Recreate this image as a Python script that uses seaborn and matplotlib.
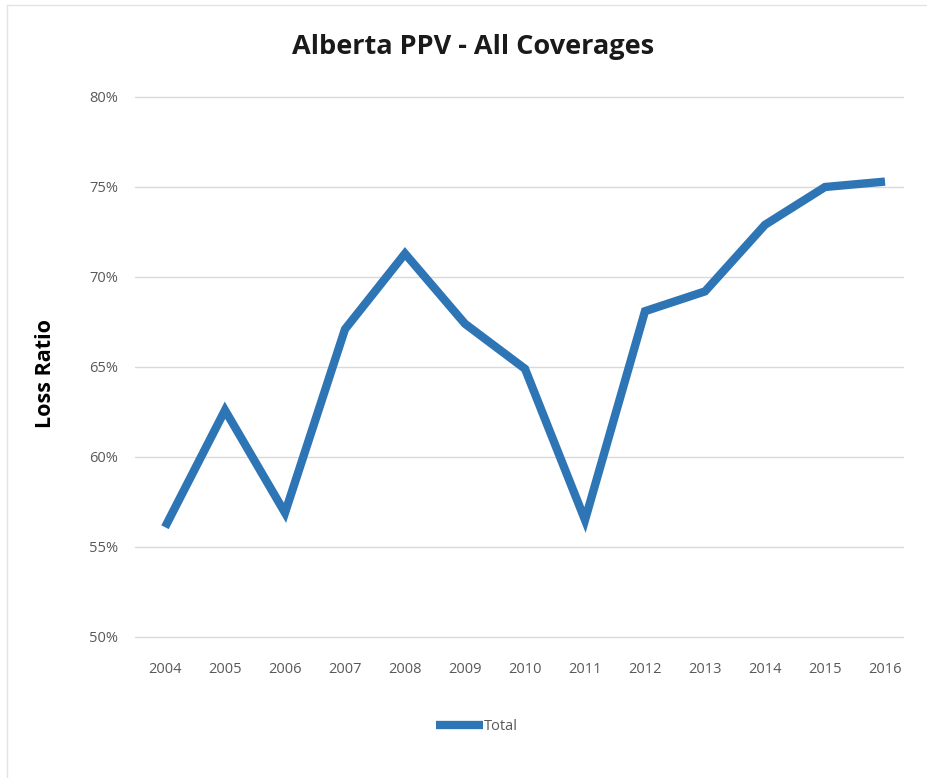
import matplotlib
matplotlib.use("Agg")
import matplotlib.pyplot as plt
import seaborn as sns
import pandas as pd
from matplotlib.ticker import PercentFormatter
from matplotlib.lines import Line2D

years = ["2004", "2005", "2006", "2007", "2008", "2009", "2010",
         "2011", "2012", "2013", "2014", "2015", "2016"]
loss_ratio = [56.1, 62.6, 56.9, 67.1, 71.3, 67.4, 64.9,
              56.5, 68.1, 69.2, 72.9, 75.0, 75.3]
series_name = "Total"
y_ticks = [50, 55, 60, 65, 70, 75, 80]

df = pd.DataFrame({"Year": years, "Loss Ratio": loss_ratio, "Series": series_name})

sns.set_theme(style="white")
plt.rcParams["font.family"] = ["Open Sans", "DejaVu Sans"]

fig = plt.figure(figsize=(9.28, 7.78), dpi=100)
ax = fig.add_axes([135 / 928, 1 - 637 / 778, 768 / 928, 540 / 778])

blue = "#2E75B6"
sns.lineplot(data=df, x="Year", y="Loss Ratio", hue="Series", palette=[blue],
             linewidth=6.0, sort=False, ax=ax, legend=True)
for line in ax.get_lines():
    line.set_solid_capstyle("butt")
    line.set_solid_joinstyle("miter")
    line.set_zorder(3)

ax.set_ylim(50, 80)
ax.set_xlim(-0.5, 12.3)
ax.set_yticks(y_ticks)
ax.yaxis.set_major_formatter(PercentFormatter(decimals=0))
ax.grid(axis="y", color="#d9d9d9", linewidth=1.0)
for gl in ax.get_ygridlines():
    gl.set_clip_on(False)
ax.grid(axis="x", visible=False)
for s in ax.spines.values():
    s.set_visible(False)
ax.tick_params(axis="both", length=0, labelsize=10.5, labelcolor="#595959")
ax.tick_params(axis="y", pad=12)
ax.tick_params(axis="x", pad=18)
ax.set_xlabel("")
ax.set_ylabel("Loss Ratio", fontsize=15.5, fontweight="bold", color="black")
ax.yaxis.set_label_coords((56 - 135) / 768, (637 - 374) / 540)

fig.text(473 / 928, 1 - 47 / 778, "Alberta PPV - All Coverages", ha="center", va="center",
         fontsize=19.5, fontweight="bold", color="#1a1a1a")

handles, labels = ax.get_legend_handles_labels()
ax.legend(handles, labels, loc="center", bbox_to_anchor=(477 / 928, 1 - 727 / 778),
          bbox_transform=fig.transFigure, frameon=False, handlelength=3.2,
          handletextpad=0.1, fontsize=10.5, labelcolor="#595959")

# faint frame edges along the left and top of the figure
fig.add_artist(Line2D([7 / 928, 7 / 928], [0, 1 - 5 / 778], transform=fig.transFigure,
                      color="#e3e3e3", linewidth=1.0))
fig.add_artist(Line2D([7 / 928, 1], [1 - 5 / 778, 1 - 5 / 778], transform=fig.transFigure,
                      color="#e3e3e3", linewidth=1.0))

fig.savefig("out.png", dpi=100, facecolor="white")
